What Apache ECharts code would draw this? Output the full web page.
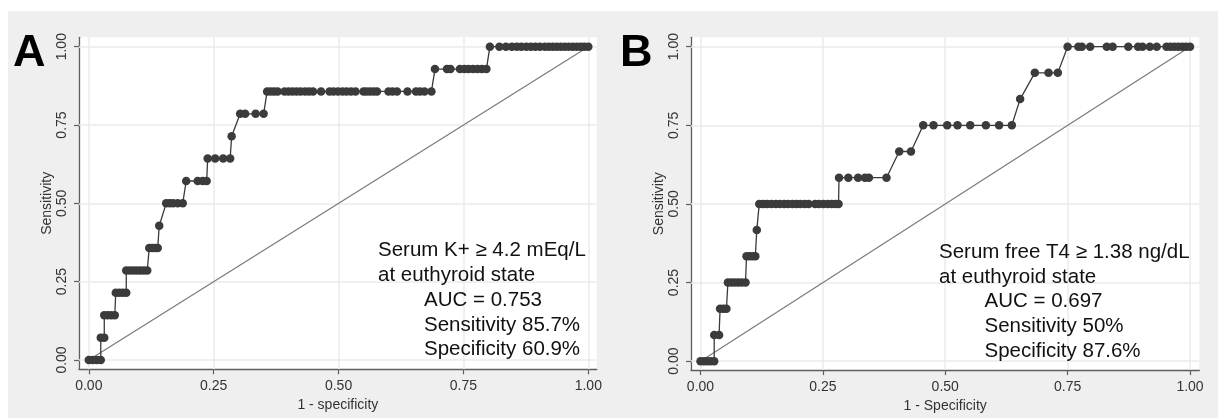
<!DOCTYPE html>
<html><head><meta charset="utf-8">
<script src="https://cdn.jsdelivr.net/npm/echarts@6/dist/echarts.min.js"></script>
<style>html,body{margin:0;padding:0;background:#fff}#c{width:1218px;height:418px}</style>
</head><body><div id="c"></div>
<script>
// ---- tick values / labels ----
const tickValues = [0, 0.25, 0.5, 0.75, 1];
const tickLabels = ['0.00', '0.25', '0.50', '0.75', '1.00'];

// ---- Panel A: Serum K+ (sensitivity levels and 1-specificity points on each level) ----
const aLevels = [0, 0.0714, 0.1429, 0.2143, 0.2857, 0.3571, 0.4286, 0.5, 0.5714, 0.6429, 0.7143, 0.7857, 0.8571, 0.9286, 1];
const aRows = [
  [0, 0.008, 0.016, 0.024],
  [0.024, 0.031],
  [0.031, 0.038, 0.045, 0.052],
  [0.054, 0.061, 0.068, 0.075],
  [0.075, 0.082, 0.089, 0.096, 0.103, 0.110, 0.117],
  [0.121, 0.127, 0.133, 0.138],
  [0.141],
  [0.155, 0.162, 0.169, 0.178, 0.188],
  [0.195, 0.218, 0.228, 0.236],
  [0.238, 0.253, 0.269, 0.283],
  [0.286],
  [0.303, 0.313, 0.334, 0.350],
  [0.357, 0.364, 0.371, 0.378, 0.392, 0.400, 0.408, 0.416, 0.424, 0.433, 0.441, 0.449, 0.465, 0.482, 0.490, 0.499, 0.508, 0.516, 0.525, 0.534, 0.550, 0.556, 0.563, 0.570, 0.577, 0.600, 0.608, 0.617, 0.638, 0.655, 0.663, 0.672, 0.686],
  [0.693, 0.717, 0.724, 0.743, 0.752, 0.760, 0.769, 0.778, 0.787, 0.796],
  [0.803, 0.822, 0.835, 0.847, 0.857, 0.866, 0.876, 0.885, 0.894, 0.903, 0.913, 0.921, 0.929, 0.937, 0.945, 0.953, 0.961, 0.969, 0.977, 0.985, 0.992, 1.0]
];

// ---- Panel B: Serum free T4 ----
const bLevels = [0, 0.0833, 0.1667, 0.25, 0.3333, 0.4167, 0.5, 0.5833, 0.6667, 0.75, 0.8333, 0.9167, 1];
const bRows = [
  [0, 0.007, 0.014, 0.021, 0.028],
  [0.028, 0.038],
  [0.040, 0.047, 0.053],
  [0.056, 0.063, 0.070, 0.077, 0.084, 0.092],
  [0.094, 0.100, 0.106, 0.112],
  [0.115],
  [0.120, 0.128, 0.136, 0.145, 0.154, 0.162, 0.171, 0.179, 0.188, 0.196, 0.204, 0.213, 0.221, 0.234, 0.242, 0.251, 0.260, 0.268, 0.276, 0.282],
  [0.283, 0.302, 0.322, 0.336, 0.344, 0.380],
  [0.406, 0.430],
  [0.455, 0.476, 0.504, 0.525, 0.551, 0.583, 0.610, 0.636],
  [0.653],
  [0.683, 0.711, 0.730],
  [0.750, 0.772, 0.779, 0.796, 0.830, 0.842, 0.874, 0.894, 0.903, 0.918, 0.932, 0.952, 0.960, 0.968, 0.976, 0.984, 0.992, 1.0]
];

// ---- reference diagonal ----
const diagX = [0, 1];
const diagY = [0, 1];

// ---- texts ----
const aTextTop = ['Serum K+ \u2265 4.2 mEq/L', 'at euthyroid state'];
const aTextInd = ['AUC = 0.753', 'Sensitivity 85.7%', 'Specificity 60.9%'];
const bTextTop = ['Serum free T4 \u2265 1.38 ng/dL', 'at euthyroid state'];
const bTextInd = ['AUC = 0.697', 'Sensitivity 50%', 'Specificity 87.6%'];

function toPairs(levels, rows) {
  const out = [];
  rows.forEach((r, i) => r.forEach(x => out.push([x, levels[i]])));
  return out;
}
const FONT = 'Liberation Sans, Arial, sans-serif';
const axisCol = '#5e5e5e';
const labCol = '#333';

function xAx(idx, name, min, max) {
  return {
    gridIndex: idx, type: 'value', min: min, max: max,
    axisLine: { show: true, onZero: false, lineStyle: { color: axisCol, width: 1.3 } },
    axisTick: { show: true, length: 5, customValues: tickValues, lineStyle: { color: axisCol, width: 1.2 } },
    axisLabel: { customValues: tickValues, margin: 10, fontSize: 14, color: labCol, fontFamily: FONT,
      formatter: v => tickLabels[tickValues.indexOf(v)] },
    splitLine: { show: false },
    name: name, nameLocation: 'middle', nameGap: 24,
    nameTextStyle: { fontSize: 14, color: labCol, fontFamily: FONT }
  };
}
function yAx(idx, min, max) {
  return {
    gridIndex: idx, type: 'value', min: min, max: max,
    axisLine: { show: true, onZero: false, lineStyle: { color: axisCol, width: 1.3 } },
    axisTick: { show: true, length: 5, customValues: tickValues, lineStyle: { color: axisCol, width: 1.2 } },
    axisLabel: { customValues: tickValues, margin: 10, rotate: 90, fontSize: 14, color: labCol, fontFamily: FONT,
      formatter: v => tickLabels[tickValues.indexOf(v)] },
    splitLine: { show: false },
    name: 'Sensitivity', nameLocation: 'middle', nameGap: 25, nameRotate: 90,
    nameTextStyle: { fontSize: 14, color: labCol, fontFamily: FONT }
  };
}
function gridSeries(idx) {
  return {
    type: 'line', xAxisIndex: idx, yAxisIndex: idx, data: [], z: 1, silent: true,
    markLine: {
      silent: true, z: 1, animation: false, symbol: ['none', 'none'], label: { show: false },
      lineStyle: { type: 'solid', color: '#ebebeb', width: 1.5 },
      data: tickValues.map(v => ({ xAxis: v })).concat(tickValues.map(v => ({ yAxis: v })))
    }
  };
}
function diagSeries(idx) {
  return {
    type: 'line', xAxisIndex: idx, yAxisIndex: idx, z: 2, silent: true,
    data: diagX.map((x, i) => [x, diagY[i]]), showSymbol: false, symbol: 'none',
    lineStyle: { color: '#7a7a7a', width: 1.2 }
  };
}
function rocSeries(idx, data) {
  return {
    type: 'line', xAxisIndex: idx, yAxisIndex: idx, z: 3, silent: true,
    data: data, symbol: 'circle', symbolSize: 8.5, showAllSymbol: true,
    itemStyle: { color: '#3b3b3b' },
    lineStyle: { color: '#3a3a3a', width: 1.3 }
  };
}
function textEls(lines, x, ys) {
  return lines.map((t, i) => ({
    type: 'text', x: x, y: ys[i], z: 100, silent: true,
    style: { text: t, fontSize: 20.5, fontFamily: FONT, fill: '#111', verticalAlign: 'middle', align: 'left' }
  }));
}

const chart = echarts.init(document.getElementById('c'), null, { renderer: 'canvas' });
chart.setOption({
  animation: false,
  backgroundColor: '#efefef',
  grid: [
    { left: 79, top: 37.3, width: 517.7, height: 332, show: true, backgroundColor: '#fff', borderWidth: 0 },
    { left: 691, top: 37.3, width: 508.3, height: 334.4, show: true, backgroundColor: '#fff', borderWidth: 0 }
  ],
  xAxis: [xAx(0, '1 - specificity', -0.0196, 1.0168), xAx(1, '1 - Specificity', -0.0194, 1.019)],
  yAxis: [yAx(0, -0.0297, 1.030), yAx(1, -0.0285, 1.0298)],
  series: [
    gridSeries(0), diagSeries(0), rocSeries(0, toPairs(aLevels, aRows)),
    gridSeries(1), diagSeries(1), rocSeries(1, toPairs(bLevels, bRows))
  ],
  graphic: [
    { type: 'rect', shape: { x: 0, y: 0, width: 1218, height: 11 }, style: { fill: '#fff' }, silent: true },
    { type: 'rect', shape: { x: 0, y: 0, width: 8, height: 418 }, style: { fill: '#fff' }, silent: true },
    { type: 'text', x: 13, y: 53.5, z: 100, silent: true,
      style: { text: 'A', fontSize: 45, fontWeight: 'bold', fontFamily: FONT, fill: '#000', verticalAlign: 'middle' } },
    { type: 'text', x: 620, y: 53.5, z: 100, silent: true,
      style: { text: 'B', fontSize: 45, fontWeight: 'bold', fontFamily: FONT, fill: '#000', verticalAlign: 'middle' } }
  ].concat(textEls(aTextTop, 378, [250, 275]))
   .concat(textEls(aTextInd, 424, [300, 325, 349.5]))
   .concat(textEls(bTextTop, 939, [252, 277]))
   .concat(textEls(bTextInd, 984.5, [301.5, 326, 351]))
});
</script></body></html>
